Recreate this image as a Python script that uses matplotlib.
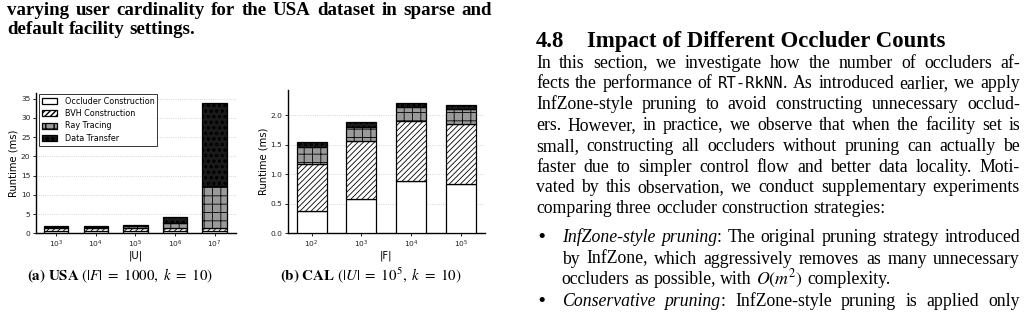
import matplotlib
matplotlib.use('Agg')
import matplotlib as mpl
import matplotlib.pyplot as plt
import numpy as np

# ---------------- data ----------------
usa_labels = ['$10^{3}$', '$10^{4}$', '$10^{5}$', '$10^{6}$', '$10^{7}$']
usa_occluder = [0.6, 0.6, 0.6, 0.55, 0.55]
usa_bvh = [0.85, 0.85, 0.9, 0.85, 0.9]
usa_ray = [0.1, 0.1, 0.3, 1.4, 10.95]
usa_transfer = [0.3, 0.3, 0.35, 1.45, 21.4]

cal_labels = ['$10^{2}$', '$10^{3}$', '$10^{4}$', '$10^{5}$']
cal_occluder = [0.37, 0.59, 0.885, 0.83]
cal_bvh = [0.81, 0.97, 1.015, 1.03]
cal_ray = [0.28, 0.25, 0.24, 0.25]
cal_transfer = [0.09, 0.07, 0.07, 0.06]

series_names = ['Occluder Construction', 'BVH Construction', 'Ray Tracing', 'Data Transfer']
usa_yticks = [0, 5, 10, 15, 20, 25, 30, 35]
cal_yticks = [0.0, 0.5, 1.0, 1.5, 2.0]

mpl.rcParams['mathtext.fontset'] = 'dejavusans'

W, H = 1025, 317
fig = plt.figure(figsize=(W / 100, H / 100), dpi=100)
renderer = fig.canvas.get_renderer()

styles = [
    dict(fc='white', hatch='', hc='black'),
    dict(fc='white', hatch='//////', hc='black'),
    dict(fc='#9a9a9a', hatch='++', hc='#c4c4c4'),
    dict(fc='#1a1a1a', hatch='ooo', hc='#e0e0e0'),
]


def px_axes(l, r, t, b):
    return fig.add_axes([l / W, 1 - b / H, (r - l) / W, (b - t) / H])


def stacked(ax, labels, series, width, xlim, ylim, yticks, ytfmt, xlabel):
    x = np.arange(len(labels))
    bottom = np.zeros(len(labels))
    for vals, st, name in zip(series, styles, series_names):
        with mpl.rc_context({'hatch.color': st['hc'], 'hatch.linewidth': 0.6}):
            ax.bar(x, vals, width, bottom=bottom, facecolor=st['fc'], edgecolor='black',
                   hatch=st['hatch'], linewidth=0.9, label=name, zorder=3)
        bottom += np.array(vals)
    ax.set_xticks(x)
    ax.set_xticklabels(labels)
    ax.set_xlim(*xlim)
    ax.set_ylim(*ylim)
    ax.set_yticks(yticks)
    ax.set_yticklabels([ytfmt.format(v) for v in yticks])
    for s in ['top', 'right']:
        ax.spines[s].set_visible(False)
    for s in ['left', 'bottom']:
        ax.spines[s].set_linewidth(1.0)
    ax.tick_params(labelsize=5.4, length=2.5, width=0.7, pad=1.5, colors='#222222')
    ax.yaxis.grid(True, linestyle=':', color='#c8c8c8', linewidth=0.6)
    ax.set_axisbelow(True)
    ax.set_ylabel('Runtime (ms)', fontsize=7.2, labelpad=1.5)
    ax.set_xlabel(xlabel, fontsize=7.2, labelpad=0.0)


ax1 = px_axes(36, 236, 93, 233.3)
stacked(ax1, usa_labels, [usa_occluder, usa_bvh, usa_ray, usa_transfer], 0.62,
        (-0.51, 4.54), (0, 36.5), usa_yticks, '{:d}', '|U|')
leg = ax1.legend(loc='upper left', bbox_to_anchor=(0.012, 1.0), fontsize=5.8, frameon=True,
                 fancybox=False, edgecolor='#333333', framealpha=1, borderpad=0.35,
                 handlelength=1.8, handleheight=0.75, labelspacing=0.42, borderaxespad=0.1,
                 handletextpad=1.0)
leg.get_frame().set_linewidth(0.7)

ax2 = px_axes(287.7, 485, 90, 233.3)
stacked(ax2, cal_labels, [cal_occluder, cal_bvh, cal_ray, cal_transfer], 0.6,
        (-0.48, 3.48), (0, 2.43), cal_yticks, '{:.1f}', '|F|')

# ---------------- text helpers ----------------
SERIF = dict(family='Liberation Serif')
SERIF_B = dict(family='Liberation Serif', weight='bold')
SERIF_I = dict(family='Liberation Serif', style='italic')
MONO = dict(family='DejaVu Sans Mono')
MATH = dict(math_fontfamily='stix')


def measure(s, size, props):
    t = fig.text(0, 0, s, fontsize=size, **props)
    w = t.get_window_extent(renderer).width
    t.remove()
    return w


def fit(s, props, target):
    return 10 * target / measure(s, 10, props)


def words_of(text, props):
    return [[(w, props)] for w in text.split()]


def seg_size(p, size):
    return size * (0.88 if p is MONO else 1.0)


def natural_width(words, size, space_props=SERIF):
    sp = measure('a a', size, space_props) - measure('aa', size, space_props)
    tot = sum(measure(s, seg_size(p, size), p) for w in words for s, p in w)
    return tot + sp * (len(words) - 1)


def draw_line(words, x0, x1, yb, size, justify, space_props=SERIF):
    wws = [sum(measure(s, seg_size(p, size), p) for s, p in w) for w in words]
    sp = measure('a a', size, space_props) - measure('aa', size, space_props)
    if justify and len(words) > 1:
        gap = (x1 - x0 - sum(wws)) / (len(words) - 1)
    else:
        gap = sp
    x = x0
    for w, ww in zip(words, wws):
        xx = x
        for s, p in w:
            sz = seg_size(p, size)
            fig.text(xx / W, 1 - yb / H, s, fontsize=sz, ha='left', va='baseline', **p)
            xx += measure(s, sz, p)
        x += ww + gap


# caption (top-left)
cap1 = words_of('varying user cardinality for the USA dataset in sparse and', SERIF_B)
cap2 = words_of('default facility settings.', SERIF_B)
cap_size = 10 * 472 / natural_width(cap1, 10, SERIF_B)
draw_line(cap1, 7, 492, 15, cap_size, True, SERIF_B)
draw_line(cap2, 7, 492, 34, cap_size, False, SERIF_B)

# subcaptions
sub_a = r'$\mathbf{(a)\ USA}\ (|F|\ =\ 1000,\ k\ =\ 10)$'
sub_b = r'$\mathbf{(b)\ CAL}\ (|U|\ =\ 10^{5},\ k\ =\ 10)$'
sub_size = fit(sub_a, MATH, 186)
fig.text(120 / W, 1 - 280 / H, sub_a, fontsize=sub_size, ha='center', va='baseline', **MATH)
fig.text(371 / W, 1 - 280 / H, sub_b, fontsize=sub_size, ha='center', va='baseline', **MATH)

# heading
head = 'Impact of Different Occluder Counts'
head_size = fit(head, SERIF_B, 360)
fig.text(536 / W, 1 - 47 / H, '4.8', fontsize=head_size, ha='left', va='baseline', **SERIF_B)
fig.text(586.7 / W, 1 - 47 / H, head, fontsize=head_size, ha='left', va='baseline', **SERIF_B)

# paragraph
X0, X1 = 536, 1020
para = [
    words_of('In this section, we investigate how the number of occluders af-', SERIF),
    words_of('fects the performance of', SERIF) + [[('RT-RkNN', MONO), ('.', SERIF)]]
    + words_of('As introduced earlier, we apply', SERIF),
    words_of('InfZone-style pruning to avoid constructing unnecessary occlud-', SERIF),
    words_of('ers. However, in practice, we observe that when the facility set is', SERIF),
    words_of('small, constructing all occluders without pruning can actually be', SERIF),
    words_of('faster due to simpler control flow and better data locality. Moti-', SERIF),
    words_of('vated by this observation, we conduct supplementary experiments', SERIF),
    words_of('comparing three occluder construction strategies:', SERIF),
]
BX = 561.7
bullets = [
    ([[('InfZone-style', SERIF_I)], [('pruning', SERIF_I), (':', SERIF)]]
     + words_of('The original pruning strategy introduced', SERIF), True, True),
    (words_of('by InfZone, which aggressively removes as many unnecessary', SERIF), True, False),
    (words_of('occluders as possible, with', SERIF) + [[('$O(m^{2})$', MATH)]]
     + words_of('complexity.', SERIF), False, False),
    ([[('Conservative', SERIF_I)], [('pruning', SERIF_I), (':', SERIF)]]
     + words_of('InfZone-style pruning is applied only', SERIF), True, True),
]

ratios = [natural_width(l, 10) / (X1 - X0) for l in para[:-1]]
ratios += [natural_width(b[0], 10) / (X1 - BX) for b in bullets if b[1]]
body_size = 10 / max(ratios) * 0.985

y = 67.5
for i, line in enumerate(para):
    draw_line(line, X0, X1, y, body_size, i < len(para) - 1)
    y += 20.8

yb = [242.5, 263.5, 284.5, 305.5]
for (line, just, dot), yy in zip(bullets, yb):
    if dot:
        fig.text(541.7 / W, 1 - yy / H, '\u2022', fontsize=body_size, ha='center',
                 va='baseline', family='DejaVu Sans')
    draw_line(line, BX, X1, yy, body_size, just)

fig.savefig('out.png', dpi=100)
